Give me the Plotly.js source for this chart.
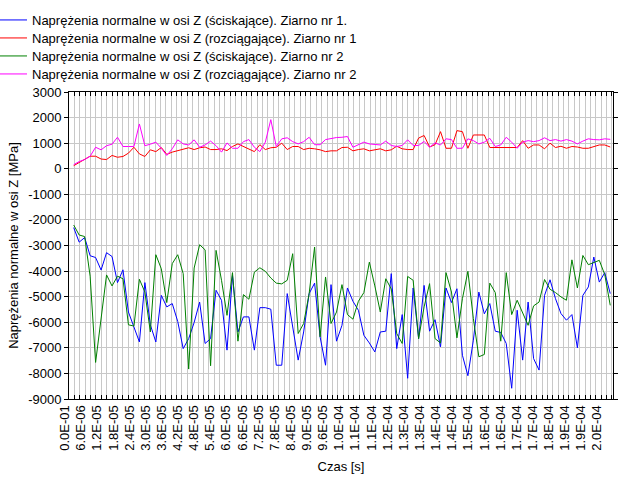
<!DOCTYPE html>
<html>
<head>
<meta charset="utf-8">
<script src="https://cdn.plot.ly/plotly-3.0.1.min.js"></script>
<style>html,body{margin:0;padding:0;background:#fff;}#chart{width:624px;height:480px;}</style>
</head>
<body>
<div id="chart"></div>
<script>
// ---- data (MPa), sampled every ~2E-06 s ----
const sciskajace1 = [-2300,-2870,-2690,-3400,-3470,-3960,-3280,-3430,-4450,-3950,
  -5600,-6200,-6770,-4450,-6100,-6770,-4950,-5400,-5270,-5970,
  -7030,-6640,-6010,-5210,-6830,-6640,-4750,-5140,-7090,-4170,
  -6380,-5790,-5790,-7090,-5430,-5430,-5490,-7680,-7680,-4880,
  -6120,-7480,-6380,-4880,-4470,-6570,-7680,-4530,-6740,-6120,
  -4660,-5180,-5530,-6510,-6810,-7160,-6380,-6350,-4100,-7030,
  -5700,-8190,-4660,-6640,-4560,-6350,-5900,-6960,-4660,-5230,
  -4690,-7290,-8090,-6700,-4820,-5670,-5270,-6350,-6400,-6830,
  -8580,-5530,-7480,-5210,-7420,-7870,-4950,-4340,-5080,-5660,
  -5920,-5700,-7000,-4950,-4620,-3450,-4430,-4060,-4880];
const rozciagajace1 = [120,250,360,490,490,380,360,520,450,480,
  610,840,580,480,740,670,830,560,650,700,
  780,820,750,820,850,750,750,780,710,870,
  970,870,740,670,940,750,820,840,1000,750,
  870,870,750,800,780,740,670,700,700,830,
  840,700,750,780,700,740,780,700,740,880,
  780,750,750,1200,1300,850,940,1450,800,800,
  1490,1450,800,1320,1320,1320,830,830,830,830,
  830,830,1100,800,930,930,780,1000,830,880,
  800,870,850,800,800,870,930,930,850];
const sciskajace2 = [-2200,-2590,-2650,-4200,-7570,-5900,-4150,-4580,-4200,-4300,
  -6100,-6150,-4320,-4820,-6380,-3360,-3910,-5230,-3710,-3360,
  -4100,-7830,-3880,-2970,-3170,-7700,-3190,-4360,-5730,-4060,
  -6740,-4920,-5100,-4040,-3870,-4010,-4270,-4470,-4500,-4360,
  -3320,-6440,-6050,-4880,-3060,-6570,-4230,-6050,-5600,-4530,
  -5700,-5880,-5180,-4840,-3650,-4580,-5600,-4300,-4700,-6440,
  -6830,-4210,-4360,-6640,-5400,-4490,-6640,-6810,-4060,-4820,
  -6610,-5080,-4010,-5860,-7350,-7260,-4470,-4840,-6740,-4060,
  -5700,-5140,-5600,-6120,-5360,-5210,-4330,-4710,-4840,-5010,
  -5140,-3560,-4660,-3390,-3750,-3650,-3580,-4140,-5340];
const rozciagajace2 = [160,280,360,490,840,740,900,960,1230,870,
  870,870,1750,900,960,1040,800,520,780,1130,
  970,930,1130,840,930,1080,900,650,1010,800,
  800,1060,1140,840,670,1040,1920,870,1170,1210,
  1060,970,1060,1230,940,940,1140,1190,1220,1230,
  1260,840,930,1040,970,960,930,1080,910,870,
  910,1130,910,910,1070,840,1010,930,1170,1140,
  800,800,1170,1100,970,1040,1190,870,930,1230,
  1040,800,1040,1100,1060,1100,1210,1100,1140,1080,
  1140,1080,970,1080,1170,1140,1130,1170,1150];

const seriesNames = [
  'Naprężenia normalne w osi Z (ściskające). Ziarno nr 1.',
  'Naprężenia normalne w osi Z (rozciągające). Ziarno nr 1',
  'Naprężenia normalne w osi Z (ściskające). Ziarno nr 2',
  'Naprężenia normalne w osi Z (rozciągające). Ziarno nr 2'
];
const xTickVals = [0,6e-6,12e-6,18e-6,24e-6,30e-6,36e-6,42e-6,48e-6,54e-6,60e-6,66e-6,
  72e-6,78e-6,84e-6,90e-6,96e-6,102e-6,108e-6,114e-6,120e-6,126e-6,132e-6,138e-6,
  144e-6,150e-6,156e-6,162e-6,168e-6,174e-6,180e-6,186e-6,192e-6,198e-6];
const xTickText = ['0.0E-01','6.0E-06','1.2E-05','1.8E-05','2.4E-05','3.0E-05','3.6E-05',
  '4.2E-05','4.8E-05','5.4E-05','6.0E-05','6.6E-05','7.2E-05','7.8E-05','8.4E-05','9.0E-05',
  '9.6E-05','1.0E-04','1.1E-04','1.1E-04','1.2E-04','1.3E-04','1.3E-04','1.4E-04','1.4E-04',
  '1.5E-04','1.6E-04','1.6E-04','1.7E-04','1.7E-04','1.8E-04','1.9E-04','1.9E-04','2.0E-04'];
const yTickVals = [3000,2000,1000,0,-1000,-2000,-3000,-4000,-5000,-6000,-7000,-8000,-9000];
const yTickText = ['3000','2000','1000','0','-1000','-2000','-3000','-4000','-5000','-6000','-7000','-8000','-9000'];

// sampling times of the points
const czas = sciskajace1.map((_, i) => 1.75e-6 + i * 2.037e-6);

const colors = ['#0000ff', '#ff0000', '#008000', '#ff00ff'];
const allSeries = [sciskajace1, rozciagajace1, sciskajace2, rozciagajace2];
const legendIds = ['legend', 'legend2', 'legend3', 'legend4'];

const traces = allSeries.map((ys, k) => ({
  type: 'scatter', mode: 'lines', x: czas, y: ys, name: seriesNames[k],
  line: {color: colors[k], width: 1}, legend: legendIds[k], hoverinfo: 'skip'
}));

const FONT = 'Liberation Sans, Arial, sans-serif';
const plotTop = 92, plotBottom = 399, plotLeft = 69, plotRight = 613;
function legendAt(px, py) {
  return {
    x: (px - plotLeft) / (plotRight - plotLeft),
    y: 1 + (plotTop - py) / (plotBottom - plotTop),
    xref: 'paper', yref: 'paper', xanchor: 'left', yanchor: 'top',
    bgcolor: 'rgba(0,0,0,0)', borderwidth: 0,
    font: {family: FONT, size: 13, color: '#000'}
  };
}

const layout = {
  width: 624, height: 480,
  margin: {l: plotLeft, r: 624 - plotRight, t: plotTop, b: 480 - plotBottom, autoexpand: false},
  paper_bgcolor: '#fff', plot_bgcolor: '#fff',
  font: {family: FONT, size: 13, color: '#000'},
  showlegend: true,
  legend: legendAt(-8, 5),
  legend2: legendAt(-8, 23),
  legend3: legendAt(-8, 41),
  legend4: legendAt(-8, 59),
  xaxis: {
    range: [0, 2.024e-4],
    tickmode: 'array', tickvals: xTickVals, ticktext: xTickText,
    tickangle: -90, ticks: 'inside', ticklen: 4, tickcolor: '#000',
    ticklabelshift: -4,
    tickfont: {family: FONT, size: 13, color: '#000'},
    showline: true, linecolor: '#000', linewidth: 1, mirror: 'allticks',
    showgrid: true, gridcolor: '#c8c8c8', gridwidth: 1, zeroline: false,
    minor: {tick0: 0, dtick: 2e-6, ticks: 'inside', ticklen: 4, tickcolor: '#000',
            showgrid: true, gridcolor: '#c8c8c8', gridwidth: 1},
    title: {text: 'Czas [s]', font: {family: FONT, size: 13, color: '#000'}, standoff: 12}
  },
  yaxis: {
    range: [-9000, 3000], automargin: true,
    tickmode: 'array', tickvals: yTickVals, ticktext: yTickText,
    ticks: 'outside', ticklen: 4, tickcolor: '#000',
    tickfont: {family: FONT, size: 13, color: '#000'},
    showline: true, linecolor: '#000', linewidth: 1, mirror: 'allticks',
    showgrid: true, gridcolor: '#c8c8c8', gridwidth: 1, zeroline: false,
    title: {text: 'Naprężenia normalne w osi Z [MPa]', font: {family: FONT, size: 13, color: '#000'}, standoff: 6}
  }
};

Plotly.newPlot('chart', traces, layout, {displayModeBar: false, staticPlot: true});
</script>
</body>
</html>
